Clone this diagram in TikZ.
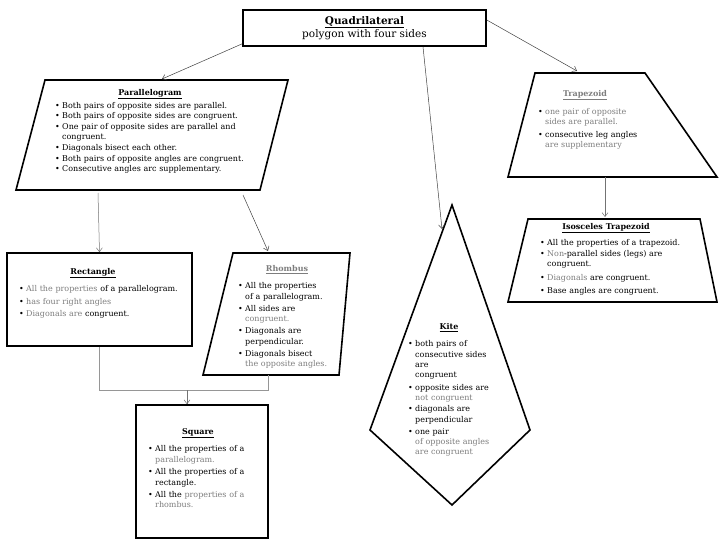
\documentclass[tikz,border=0pt]{standalone}
\usepackage{fontspec}
\setmainfont{DejaVu Serif}
\usetikzlibrary{arrows.meta,positioning}
\definecolor{fadeink}{RGB}{125,125,125}
\definecolor{elbowgray}{RGB}{150,150,150}
\newcommand{\ttl}[1]{\underline{#1}}
\newcommand{\faded}[1]{\textcolor{fadeink}{#1}}
\newcommand{\bpt}[1][2pt]{\par\vspace{#1}\hangindent=7pt\hangafter=1\noindent\makebox[7pt][l]{\textbullet}\ignorespaces}

\begin{document}
\begin{tikzpicture}[x=1pt,y=-1pt,
    shapeline/.style={line width=1.6pt,line join=miter},
    box/.style={draw,line width=1.6pt,inner sep=0pt},
    heading/.style={inner sep=0pt,font=\fontsize{8}{9}\selectfont\bfseries},
    desc/.style={anchor=north west,align=left,inner sep=0pt,font=\fontsize{8}{10.4}\selectfont},
    link/.style={draw=black!75,line width=0.5pt,-{Straight Barb[length=4pt,width=6pt]}},
    elbow/.style={draw=elbowgray,line width=0.8pt}]
    \useasboundingbox (0,0) rectangle (720,551);

    % Quadrilateral
    \node[box,minimum width=243,minimum height=36,align=center,
          font=\fontsize{10.5}{13}\selectfont] (quad) at (364.5,28)
          {\textbf{\ttl{Quadrilateral}}\\polygon with four sides};

    % Parallelogram
    \draw[shapeline] (45,80) -- (288,80) -- (260,190) -- (16,190) -- cycle;
    \coordinate (parIn) at (162,79);
    \coordinate (parOutL) at (98,193);
    \coordinate (parOutR) at (243,195);
    \node[heading] (parTitle) at (150,94) {\ttl{Parallelogram}};
    \node[desc,text width=230,font=\fontsize{8}{10.1}\selectfont] (parText) at (55,98) {%
        \bpt[0pt] Both pairs of opposite sides are parallel.
        \bpt[0.6pt] Both pairs of opposite sides are congruent.
        \bpt[0.6pt] One pair of opposite sides are parallel and\newline congruent.
        \bpt[0.6pt] Diagonals bisect each other.
        \bpt[0.6pt] Both pairs of opposite angles are congruent.
        \bpt[0.6pt] Consecutive angles arc supplementary.\par};

    % Trapezoid
    \draw[shapeline] (535,73) -- (645,73) -- (717,177) -- (508,177) -- cycle;
    \coordinate (trapIn) at (577,71);
    \coordinate (trapOut) at (605,177);
    \node[heading,text=fadeink] (trapTitle) at (585,95) {\ttl{Trapezoid}};
    \node[desc,text width=140,font=\fontsize{8}{10}\selectfont] (trapText) at (538,104) {%
        \bpt[0pt] \faded{one pair of opposite\newline sides are parallel.}
        \bpt[3pt] consecutive leg angles\newline \faded{are supplementary}\par};

    % Isosceles trapezoid
    \draw[shapeline] (528,219) -- (700,219) -- (717,302) -- (508,302) -- cycle;
    \coordinate (isoIn) at (605,217);
    \node[heading] (isoTitle) at (606,228) {\ttl{Isosceles Trapezoid}};
    \node[desc,text width=175,font=\fontsize{8}{10.2}\selectfont] (isoText) at (540,235) {%
        \bpt[0pt] All the properties of a trapezoid.
        \bpt[0.8pt] \faded{Non}-parallel sides (legs) are\newline congruent.
        \bpt[3.6pt] \faded{Diagonals} are congruent.
        \bpt[2.6pt] Base angles are congruent.\par};

    % Kite
    \draw[shapeline] (452,205) -- (530,430) -- (452,505) -- (370,430) -- cycle;
    \coordinate (kiteIn) at (442,229);
    \node[heading] (kiteTitle) at (449,328) {\ttl{Kite}};
    \node[desc,text width=115] (kiteText) at (408,336) {%
        \bpt[0pt] both pairs of\newline consecutive sides\newline are\newline congruent
        \bpt[2.3pt] opposite sides are\newline \faded{not congruent}
        \bpt[0.5pt] diagonals are\newline perpendicular
        \bpt[1.5pt] one pair\newline \faded{of opposite angles\newline are congruent}\par};

    % Rectangle
    \node[box,minimum width=185,minimum height=93] (rect) at (99.5,299.5) {};
    \node[heading] (rectTitle) at (93,273) {\ttl{Rectangle}};
    \node[desc,text width=175] (rectText) at (19,281) {%
        \bpt[0pt] \faded{All the properties} of a parallelogram.
        \bpt[2.3pt] \faded{has four right angles}
        \bpt[1.8pt] \faded{Diagonals are} congruent.\par};

    % Rhombus
    \draw[shapeline] (233,253) -- (350,253) -- (339,375) -- (203,375) -- cycle;
    \coordinate (rhomIn) at (268,251);
    \coordinate (rhomOut) at (268,375);
    \node[heading,text=fadeink] (rhomTitle) at (287,270) {\ttl{Rhombus}};
    \node[desc,text width=110] (rhomText) at (238,278) {%
        \bpt[0pt] All the properties\newline of a parallelogram.
        \bpt All sides are\newline \faded{congruent.}
        \bpt[1.5pt] Diagonals are\newline perpendicular.
        \bpt[1.5pt] Diagonals bisect\newline \faded{the opposite angles.}\par};

    % Square
    \node[box,minimum width=132,minimum height=133] (square) at (202,471.5) {};
    \node[heading] (sqTitle) at (198,433) {\ttl{Square}};
    \node[desc,text width=120] (sqText) at (148,441) {%
        \bpt[0pt] All the properties of a\newline \faded{parallelogram.}
        \bpt[2.5pt] All the properties of a\newline rectangle.
        \bpt[1.5pt] All the \faded{properties of a\newline rhombus.}\par};

    % connectors
    \draw[link] ([yshift=3pt]quad.south west) -- (parIn);
    \draw[link] ([yshift=8pt]quad.east) -- (trapIn);
    \draw[link] ([xshift=58.5pt]quad.south) -- (kiteIn);
    \draw[link,draw=black!55] (parOutL) -- (rect.north);
    \draw[link] (parOutR) -- (rhomIn);
    \draw[link,draw=black!55] (trapOut) -- (isoIn);
    \draw[elbow] (rect.south) -- (99.5,390) coordinate (joinL) -- (268,390) coordinate (joinR) -- (rhomOut);
    \coordinate (joinM) at (187,390);
    \draw[link,draw=black!55] (joinM) -- (joinM |- square.north);
\end{tikzpicture}
\end{document}
